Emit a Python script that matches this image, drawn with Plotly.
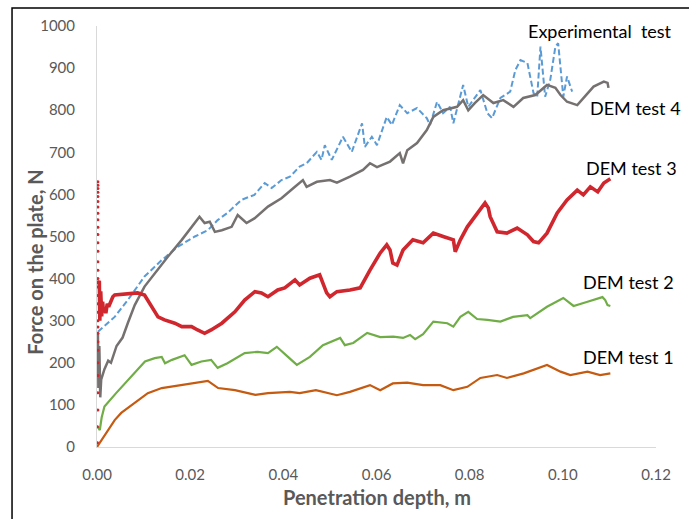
import plotly.graph_objects as go

# Penetration depth (m) and force on the plate (N) for each run

exp_x = [0.0002, 0.0038, 0.0066, 0.0102, 0.0139, 0.0174, 0.0210, 0.0238, 0.0259, 0.0280,
         0.0310, 0.0338, 0.0360, 0.0375, 0.0396, 0.0414, 0.0435, 0.0450, 0.0472, 0.0482,
         0.0489, 0.0504, 0.0528, 0.0547, 0.0569, 0.0575, 0.0590, 0.0601, 0.0622, 0.0633,
         0.0650, 0.0666, 0.0687, 0.0708, 0.0715, 0.0730, 0.0743, 0.0758, 0.0765, 0.0786,
         0.0797, 0.0823, 0.0838, 0.0848, 0.0866, 0.0887, 0.0898, 0.0909, 0.0924, 0.0937,
         0.0945, 0.0952, 0.0962, 0.0973, 0.0984, 0.0990, 0.1001, 0.1009, 0.1020]
exp_y = [274, 309, 349, 405, 444, 476, 500, 515, 539, 556,
         587, 599, 627, 615, 634, 642, 666, 674, 701, 682,
         717, 682, 737, 701, 769, 713, 737, 717, 784, 765,
         812, 793, 805, 781, 765, 820, 793, 808, 769, 860,
         808, 848, 793, 781, 829, 844, 895, 919, 912, 841,
         832, 951, 832, 872, 951, 959, 832, 880, 844]

t1_x = [0, 0.0016, 0.0038, 0.0052, 0.0081, 0.0109, 0.0139, 0.0210, 0.0238, 0.0260,
        0.0296, 0.0340, 0.0367, 0.0414, 0.0435, 0.0470, 0.0515, 0.0543, 0.0586, 0.0608,
        0.0635, 0.0666, 0.0700, 0.0737, 0.0765, 0.0795, 0.0823, 0.0859, 0.0880, 0.0916,
        0.0966, 0.0995, 0.1016, 0.1053, 0.1080, 0.1102]
t1_y = [0, 28, 64, 81, 104, 128, 140, 152, 157, 140,
        135, 124, 128, 131, 128, 135, 123, 131, 147, 135,
        151, 153, 147, 147, 135, 143, 164, 171, 164, 175,
        195, 179, 171, 179, 171, 175]

t2_x = [0.0002, 0.0006, 0.0010, 0.0016, 0.0041, 0.0066, 0.0103, 0.0124, 0.0139, 0.0146,
        0.0161, 0.0188, 0.0203, 0.0224, 0.0245, 0.0259, 0.0280, 0.0317, 0.0345, 0.0367,
        0.0386, 0.0410, 0.0429, 0.0457, 0.0485, 0.0522, 0.0532, 0.0550, 0.0580, 0.0608,
        0.0636, 0.0657, 0.0672, 0.0683, 0.0700, 0.0722, 0.0752, 0.0765, 0.0780, 0.0797,
        0.0816, 0.0838, 0.0866, 0.0893, 0.0924, 0.0930, 0.0966, 0.1001, 0.1023, 0.1053,
        0.1085, 0.1091, 0.1096, 0.1102]
t2_y = [48, 40, 70, 96, 128, 159, 203, 211, 214, 199,
        207, 218, 195, 203, 207, 188, 199, 223, 226, 223,
        238, 214, 195, 214, 242, 259, 242, 247, 271, 261,
        262, 259, 266, 256, 268, 298, 294, 286, 309, 321,
        304, 302, 298, 309, 313, 306, 333, 354, 335, 345,
        356, 349, 337, 335]

t4_x = [0.0002, 0.0003, 0.0005, 0.0007, 0.0009, 0.0016, 0.0024, 0.0030, 0.0042, 0.0055,
        0.0066, 0.0081, 0.0102, 0.0124, 0.0152, 0.0182, 0.0210, 0.0220, 0.0231, 0.0242,
        0.0253, 0.0268, 0.0289, 0.0302, 0.0321, 0.0338, 0.0367, 0.0396, 0.0425, 0.0442,
        0.0450, 0.0472, 0.0500, 0.0515, 0.0543, 0.0571, 0.0586, 0.0601, 0.0629, 0.0650,
        0.0657, 0.0666, 0.0687, 0.0708, 0.0722, 0.0743, 0.0773, 0.0786, 0.0797, 0.0811,
        0.0829, 0.0844, 0.0851, 0.0872, 0.0894, 0.0915, 0.0941, 0.0966, 0.0984, 0.0995,
        0.1009, 0.1031, 0.1044, 0.1066, 0.1088, 0.1096, 0.1098]
t4_y = [270, 140, 240, 118, 160, 185, 205, 200, 240, 260,
        294, 337, 381, 413, 452, 492, 532, 547, 532, 535,
        511, 515, 523, 551, 532, 543, 571, 591, 618, 634,
        618, 630, 634, 628, 642, 658, 674, 665, 678, 698,
        674, 705, 722, 753, 784, 800, 808, 824, 800, 817,
        836, 824, 817, 824, 808, 829, 836, 860, 853, 836,
        820, 812, 829, 856, 868, 865, 853]

# DEM test 3: scattered start-up points at the surface, then the main curve
t3_start_x = [0.0001, 0.0001, 0.0002, 0.0002, 0.0002, 0.0002, 0.0002, 0.0002, 0.0002, 0.0002,
              0.0002, 0.0002, 0.0002, 0.0002, 0.0002, 0.0002, 0.0002, 0.0002, 0.0002, 0.0002,
              0.0002, 0.0002, 0.0002, 0.0002, 0.0002, 0.0002, 0.0002, 0.0002, 0.0002, 0.0002,
              0.0002, 0.0002]
t3_start_y = [10, 48, 88, 129, 170, 200, 230, 250, 270, 285,
              300, 320, 340, 360, 380, 390, 400, 420, 440, 465,
              485, 505, 522, 540, 555, 570, 583, 595, 605, 614,
              622, 630]

t3_x = [0.0003, 0.0005, 0.0006, 0.0008, 0.0010, 0.0012, 0.0014, 0.0016, 0.0019, 0.0022,
        0.0025, 0.0034, 0.0038, 0.0065, 0.0087, 0.0102, 0.0118, 0.0131, 0.0145, 0.0167,
        0.0182, 0.0203, 0.0216, 0.0231, 0.0245, 0.0268, 0.0296, 0.0317, 0.0339, 0.0353,
        0.0367, 0.0388, 0.0403, 0.0425, 0.0435, 0.0457, 0.0478, 0.0493, 0.0500, 0.0515,
        0.0543, 0.0565, 0.0586, 0.0608, 0.0622, 0.0629, 0.0635, 0.0644, 0.0657, 0.0678,
        0.0700, 0.0722, 0.0743, 0.0765, 0.0769, 0.0780, 0.0795, 0.0816, 0.0833, 0.0840,
        0.0844, 0.0859, 0.0880, 0.0902, 0.0924, 0.0937, 0.0948, 0.0966, 0.0988, 0.1009,
        0.1016, 0.1031, 0.1044, 0.1059, 0.1075, 0.1088, 0.1102]
t3_y = [390, 395, 300, 370, 310, 345, 320, 330, 318, 340,
        333, 357, 361, 363, 366, 361, 333, 309, 302, 294,
        286, 286, 278, 270, 278, 294, 321, 349, 369, 366,
        357, 373, 378, 397, 385, 401, 409, 366, 357, 369,
        373, 378, 420, 461, 480, 468, 437, 432, 468, 492,
        485, 508, 500, 492, 464, 492, 523, 556, 580, 568,
        547, 511, 508, 520, 504, 488, 485, 508, 556, 587,
        594, 610, 599, 618, 606, 627, 637]

x_ticks = [0.00, 0.02, 0.04, 0.06, 0.08, 0.10, 0.12]
y_ticks = [0, 100, 200, 300, 400, 500, 600, 700, 800, 900, 1000]

series_labels = ["Experimental\u00a0 test", "DEM test 4", "DEM test 3", "DEM test 2", "DEM test 1"]
label_x = [0.1079, 0.1156, 0.1147, 0.1140, 0.1142]
label_y = [989, 805, 663, 392, 214]

FONT = "Lato, 'Open Sans', sans-serif"
GREY_TEXT = "#595959"

fig = go.Figure()
fig.add_trace(go.Scatter(x=exp_x, y=exp_y, mode="lines", name="Experimental test",
                         line=dict(color="#5B9BD5", width=2, dash="6px,3px")))
fig.add_trace(go.Scatter(x=t1_x, y=t1_y, mode="lines", name="DEM test 1",
                         line=dict(color="#C55A11", width=2.2)))
fig.add_trace(go.Scatter(x=t2_x, y=t2_y, mode="lines", name="DEM test 2",
                         line=dict(color="#70AD47", width=2.2)))
fig.add_trace(go.Scatter(x=t4_x, y=t4_y, mode="lines", name="DEM test 4",
                         line=dict(color="#767171", width=2.5)))
fig.add_trace(go.Scatter(x=t3_start_x, y=t3_start_y, mode="markers", name="DEM test 3",
                         marker=dict(color="#D0262D", size=3)))
fig.add_trace(go.Scatter(x=t3_x, y=t3_y, mode="lines", name="DEM test 3",
                         line=dict(color="#D0262D", width=3.6)))

for text, lx, ly in zip(series_labels, label_x, label_y):
    fig.add_annotation(x=lx, y=ly, xref="x", yref="y", text=text, showarrow=False,
                       xanchor="center", yanchor="middle",
                       font=dict(family=FONT, size=18, color="#000000"))

# axis titles
fig.add_annotation(x=0.5, y=-0.119, xref="paper", yref="paper",
                   text="<b>Penetration depth, m</b>", showarrow=False,
                   xanchor="center", yanchor="middle",
                   font=dict(family=FONT, size=20, color=GREY_TEXT))
fig.add_annotation(x=-0.111, y=0.44, xref="paper", yref="paper",
                   text="<b>Force on the plate, N</b>", showarrow=False, textangle=-90,
                   xanchor="center", yanchor="middle",
                   font=dict(family=FONT, size=20, color=GREY_TEXT))

# outer chart frame
fig.add_shape(type="rect", xref="paper", yref="paper", x0=-0.152, x1=1.2, y0=-0.3, y1=1.0428,
              line=dict(color="#000000", width=1.5), fillcolor="rgba(0,0,0,0)")

fig.update_layout(
    width=689, height=519,
    margin=dict(l=97, r=33, t=26, b=72),
    paper_bgcolor="white", plot_bgcolor="white",
    showlegend=False,
    font=dict(family=FONT, color=GREY_TEXT),
    xaxis=dict(range=[0, 0.12], tickvals=x_ticks, tickformat=".2f",
               showgrid=False, zeroline=False, showline=True, linecolor="#D9D9D9",
               linewidth=1, ticks="", ticklabelstandoff=14,
               tickfont=dict(family=FONT, size=15, color=GREY_TEXT)),
    yaxis=dict(range=[0, 1000], tickvals=y_ticks,
               showgrid=False, zeroline=False, showline=True, linecolor="#D9D9D9",
               linewidth=1, ticks="", ticklabelstandoff=18,
               tickfont=dict(family=FONT, size=15, color=GREY_TEXT)),
)

fig.write_html("out.html")
